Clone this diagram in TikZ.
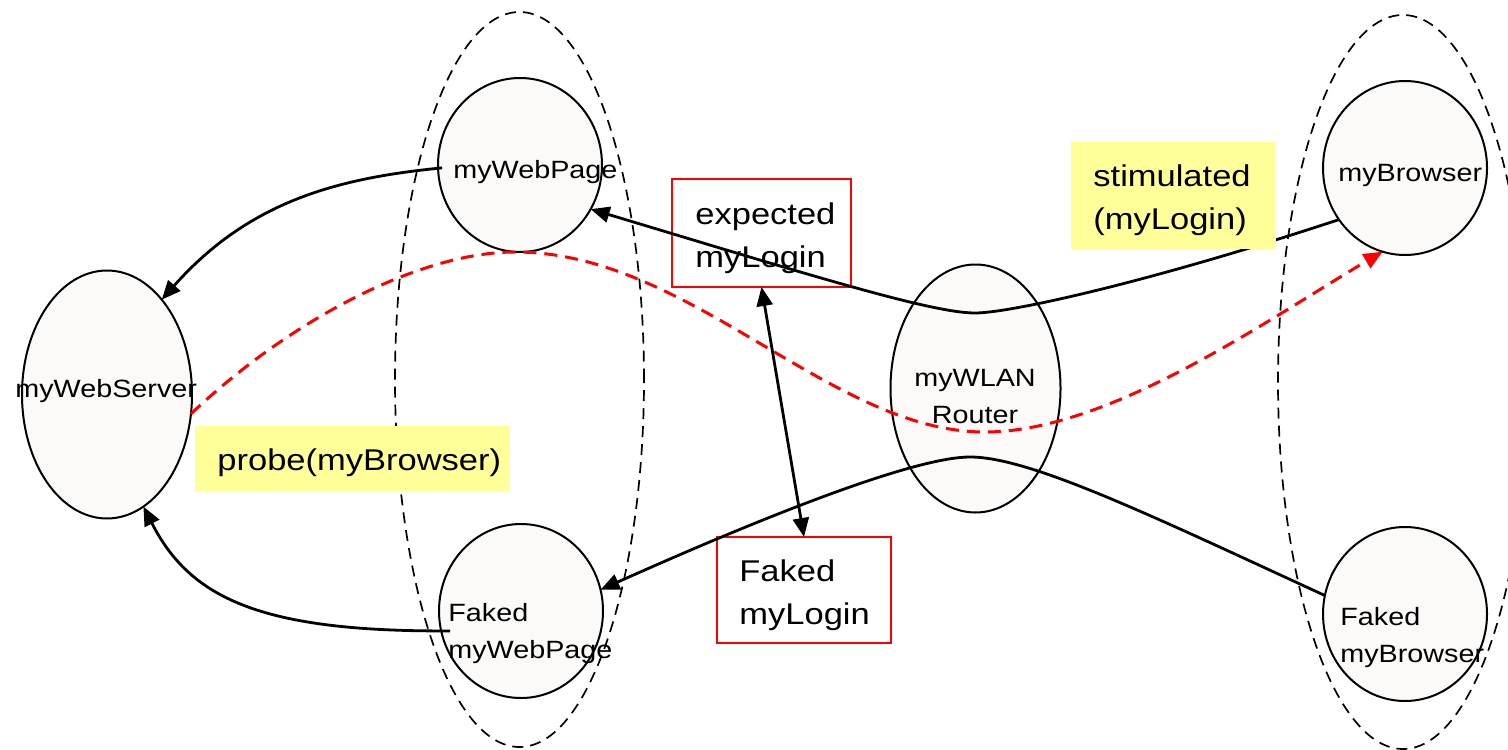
\documentclass[tikz,border=0pt]{standalone}
\usepackage{fontspec}
\setmainfont{Liberation Sans}[FakeStretch=1.15]
\usetikzlibrary{arrows.meta,shapes.geometric}

\definecolor{nodefill}{RGB}{251,250,248}
\definecolor{notefill}{RGB}{255,255,153}
\definecolor{linkred}{RGB}{255,0,0}

\tikzset{
  entity/.style={ellipse, draw, line width=1pt, fill=nodefill, inner sep=0pt, outer sep=0pt},
  circ/.style={entity, minimum width=82pt, minimum height=87pt},
  oval/.style={entity, minimum width=85pt, minimum height=124pt},
  group/.style={ellipse, draw, line width=0.85pt, dash pattern=on 5.5pt off 3.5pt, inner sep=0pt, outer sep=0pt},
  link/.style={line width=1.4pt, -{Triangle[length=9.5pt,width=8pt]}},
  twoway/.style={line width=1.4pt, {Triangle[length=9.5pt,width=8pt]}-{Triangle[length=9.5pt,width=8pt]}},
  probeline/.style={linkred, line width=1.5pt, dash pattern=on 6.5pt off 4pt, -{Triangle[length=9.5pt,width=8pt]}},
  msgbox/.style={draw=linkred, line width=1pt, inner sep=0pt, outer sep=0pt},
  note/.style={fill=notefill, inner sep=0pt, outer sep=0pt},
  small/.style={font=\fontsize{12.5pt}{18.5pt}\selectfont, inner sep=0pt, anchor=base west, align=left},
  large/.style={font=\fontsize{15pt}{21.5pt}\selectfont, inner sep=0pt, anchor=base west, align=left}
}

\begin{document}
\begin{tikzpicture}[x=0.5pt,y=-0.5pt]
\useasboundingbox (0,0) rectangle (1508,749);

% components
\node[oval] (server)   at (107,394.5) {};
\node[circ] (webpage)  at (520,165) {};
\node[circ] (fwebpage) at (521,611) {};
\node[oval] (router)   at (975.5,388.5) {};
\node[circ] (browser)  at (1405,168) {};
\node[circ] (fbrowser) at (1405,614) {};

% groupings
\node[group, minimum width=124.5pt, minimum height=367.5pt] (pagegroup) at (519.5,379.5) {};
\node[group, minimum width=125pt, minimum height=367pt] (browsergroup) at (1403,382) {};

% routing points inside the router
\coordinate (dipA) at (975,313);
\coordinate (dipB) at (970,457);
\coordinate (crest) at (515,252);
\coordinate (trough) at (985,432);

% message boxes
\node[msgbox, minimum width=89.5pt, minimum height=54pt] (expected) at (761.5,233) {};
\node[msgbox, minimum width=87pt, minimum height=53pt] (fakedlogin) at (804,590) {};

% connectors
\draw[link] ([xshift=2pt]webpage.182) .. controls (340,178) and (250,200) .. (server.60);
\draw[link] ([xshift=4.5pt]fwebpage.194) .. controls (260,632) and (190,598) .. (server.-72);
\draw[link] (browser.218) .. controls (1150,282) and (1010,313) .. (dipA)
  .. controls (930,313) and (800,272) .. (webpage.-32);
\draw[link] (fbrowser.167) .. controls (1150,515) and (1030,457) .. (dipB)
  .. controls (920,457) and (790,505) .. (fwebpage.15);
\draw[twoway] (expected.south) -- (fakedlogin.north);
\draw[probeline] (server.-13) .. controls (290,320) and (420,252) .. (crest)
  .. controls (690,252) and (830,432) .. (trough)
  .. controls (1110,432) and (1270,318) .. (browser.255);

% notes
\node[note, minimum width=157.5pt, minimum height=32.5pt] (probenote) at (352.5,458.5) {};
\node[note, minimum width=102.5pt, minimum height=53.5pt] (stimnote) at (1173.5,195.5) {};

% labels (multi-line labels sit on the baseline of their last line)
\node[small] (server-t)   at (15,397) {myWebServer};
\node[small] (webpage-t)  at (453,178) {myWebPage};
\node[small] (browser-t)  at (1338,181) {myBrowser};
\node[small, anchor=base, align=center] (router-t) at (975,423) {myWLAN\\Router};
\node[small] (fwebpage-t) at (448,658) {Faked\\myWebPage};
\node[small] (fbrowser-t) at (1340,662) {Faked\\myBrowser};
\node[large] (expected-t) at (695,267) {expected\\myLogin};
\node[large] (fakedlogin-t) at (739,624) {Faked\\myLogin};
\node[large] (probe-t) at (217,470) {probe(myBrowser)};
\node[large] (stim-t) at (1093,229) {stimulated\\(myLogin)};
\end{tikzpicture}
\end{document}
